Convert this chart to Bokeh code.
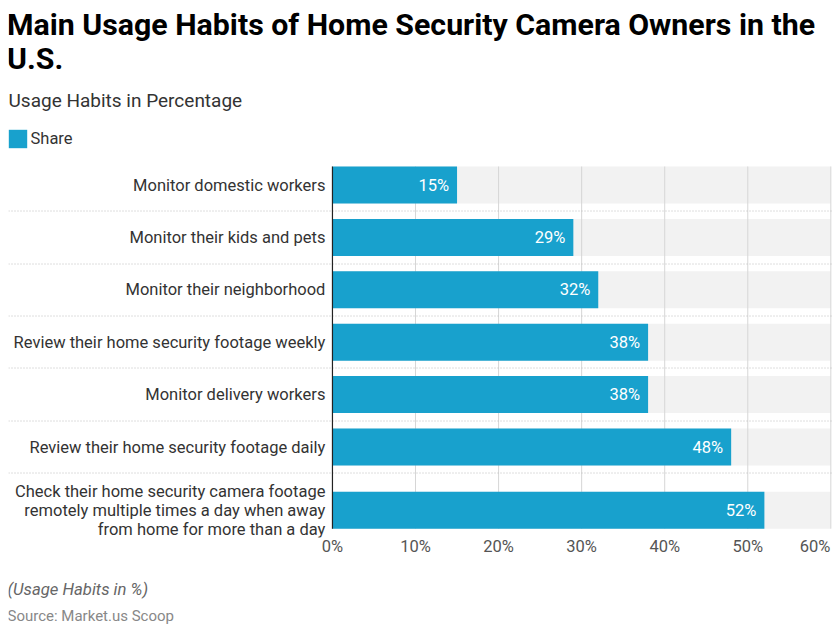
import math
from bokeh.plotting import figure
from bokeh.layouts import column
from bokeh.models import (Range1d, FixedTicker, CustomJSTickFormatter,
                          Legend, LegendItem, ColumnDataSource)
from bokeh.core.properties import value
from bokeh.embed import file_html
from bokeh.resources import INLINE

# ---------------- data ----------------
categories = [
    "Monitor domestic workers",
    "Monitor their kids and pets",
    "Monitor their neighborhood",
    "Review their home security footage weekly",
    "Monitor delivery workers",
    "Review their home security footage daily",
    "Check their home security camera footage\nremotely multiple times a day when away\nfrom home for more than a day",
]
shares = [15, 29, 32, 38, 38, 48, 52]
tick_values = [0, 10, 20, 30, 40, 50, 60]
series_name = "Share"
title_lines = ["Main Usage Habits of Home Security Camera Owners in the", "U.S."]
subtitle = "Usage Habits in Percentage"
note = "(Usage Habits in %)"
source_text = "Source: Market.us Scoop"

# ---------------- layout / style ----------------
FONT = "Roboto"
BAR_COLOR = "#18a1cd"
BAND_COLOR = "#f2f2f2"
GRID_COLOR = "#d6d6d6"
FRAME_W = 824
LEFT = 8
TOP = 8                 # page y of frame top
PLOT_TOP = 166
BAR_H = 37
ROW_GAP = 15.4
LINE_H = 19.5
FRAME_BOTTOM = 537
AXIS_BORDER = 30
FOOT_H = 62
X_START, X_END = -39.0, 60.2
x_max = tick_values[-1]

centers, seps = [], []
top = PLOT_TOP
for i, c in enumerate(categories):
    n = c.count("\n") + 1
    h = max(BAR_H, n * LINE_H)
    if i > 0:
        seps.append(math.floor(top - ROW_GAP / 2) + 0.5)
    centers.append(top + h / 2)
    top += h + ROW_GAP
plot_bottom = centers[-1] + BAR_H / 2
FRAME_H = FRAME_BOTTOM - TOP

p = figure(frame_width=FRAME_W, frame_height=FRAME_H,
           x_range=Range1d(X_START, X_END),
           y_range=Range1d(FRAME_BOTTOM, TOP),
           output_backend="svg", toolbar_location=None,
           y_axis_type=None, min_border_left=LEFT, min_border_right=0,
           min_border_top=TOP, min_border_bottom=AXIS_BORDER)
p.title = None
p.outline_line_color = None
p.xgrid.visible = False
p.ygrid.visible = False
p.background_fill_color = "white"
p.border_fill_color = "white"

src = ColumnDataSource(dict(y=centers, share=shares, cat=categories,
                            lab=[f"{v}%" for v in shares],
                            full=[x_max] * len(shares)))

# background bands
p.hbar(y="y", left=0, right="full", height=BAR_H, source=src,
       fill_color=BAND_COLOR, line_color=None)
# grid lines
grid_x = tick_values[1:]
p.segment(x0=grid_x, x1=grid_x, y0=[PLOT_TOP] * len(grid_x),
          y1=[plot_bottom] * len(grid_x), line_color=GRID_COLOR, line_width=1)
# separators
p.segment(x0=[X_START] * len(seps), x1=[X_END] * len(seps), y0=seps, y1=seps,
          line_color="#bdbdbd", line_width=1, line_dash="1 2")
# bars
bars = p.hbar(y="y", left=0, right="share", height=BAR_H, source=src,
              fill_color=BAR_COLOR, line_color=None)
# zero line
p.segment(x0=[0], x1=[0], y0=[PLOT_TOP], y1=[plot_bottom],
          line_color="#222222", line_width=1.2)
# value labels
p.text(x="share", y="y", text="lab", source=src, x_offset=-8,
       text_align="right", text_baseline="middle", text_color="white",
       text_font=value(FONT), text_font_size="16.5px")
# category labels
p.text(x=[-0.85] * len(categories), y=centers, text=categories,
       text_align="right", text_baseline="middle", text_color="#333333",
       text_font=value(FONT), text_font_size="16.5px", text_line_height=1.0)

# titles
p.text(x=[X_START], y=[23.5], text=[title_lines[0]], text_font=value(FONT),
       text_font_style="bold", text_font_size="30.3px", text_color="#000000",
       text_baseline="middle", text_align="left", x_offset=-1.5)
p.text(x=[X_START], y=[58], text=[title_lines[1]], text_font=value(FONT),
       text_font_style="bold", text_font_size="30.3px", text_color="#000000",
       text_baseline="middle", text_align="left", x_offset=-1.5)
p.text(x=[X_START], y=[100], text=[subtitle], text_font=value(FONT),
       text_font_size="19px", text_color="#333333",
       text_baseline="middle", text_align="left")

# legend
legend = Legend(items=[LegendItem(label=series_name, renderers=[bars])],
                location=(-2.5, FRAME_BOTTOM - 150), orientation="horizontal",
                padding=0, margin=0, spacing=0, glyph_width=23, glyph_height=23,
                label_height=23, label_standoff=2, border_line_color=None,
                background_fill_alpha=0, label_text_font=FONT,
                label_text_font_size="16.5px", label_text_color="#333333")
p.add_layout(legend)

# x axis
ticks = list(tick_values)
ticks[-1] = tick_values[-1] - 1.9   # keep last label inside the canvas
p.xaxis.ticker = FixedTicker(ticks=ticks)
p.xaxis.formatter = CustomJSTickFormatter(code="return (Math.round(tick / 10) * 10) + '%';")
p.xaxis.axis_line_color = None
p.xaxis.major_tick_line_color = None
p.xaxis.minor_tick_line_color = None
p.xaxis.major_tick_in = 0
p.xaxis.major_tick_out = 0
p.xaxis.major_label_standoff = -1
p.xaxis.major_label_text_font = FONT
p.xaxis.major_label_text_font_size = "16.5px"
p.xaxis.major_label_text_color = "#555555"

# footer figure (page y coordinates)
F_TOP = FRAME_BOTTOM + AXIS_BORDER
f = figure(frame_width=FRAME_W, frame_height=FOOT_H,
           x_range=Range1d(X_START, X_END),
           y_range=Range1d(F_TOP + FOOT_H, F_TOP),
           output_backend="svg", toolbar_location=None,
           x_axis_type=None, y_axis_type=None,
           min_border_left=LEFT, min_border_right=0,
           min_border_top=0, min_border_bottom=0)
f.title = None
f.outline_line_color = None
f.xgrid.visible = False
f.ygrid.visible = False
f.text(x=[X_START], y=[589], text=[note], x_offset=-1, text_font=value(FONT),
       text_font_size="16.7px", text_font_style="italic", text_color="#666666",
       text_baseline="middle", text_align="left")
f.text(x=[X_START], y=[615.5], text=[source_text], x_offset=-1,
       text_font=value(FONT), text_font_size="15px", text_color="#888888",
       text_baseline="middle", text_align="left")

layout = column(p, f, spacing=0)
open("out.html", "w").write(file_html(layout, INLINE))
